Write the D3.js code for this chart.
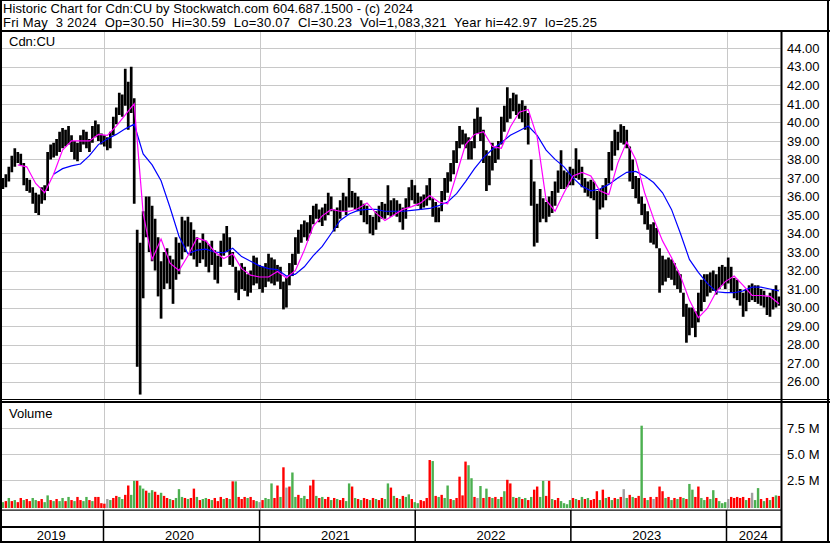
<!DOCTYPE html>
<html><head><meta charset="utf-8">
<script src="https://cdn.jsdelivr.net/npm/d3@7"></script>
<style>
html,body{margin:0;padding:0;background:#fff;}
svg{display:block;font-family:"Liberation Sans",Arial,sans-serif;}
</style></head><body>
<svg id="c" width="830" height="543"></svg>
<script>
// ---------- data ----------
const title = "Historic Chart for Cdn:CU by Stockwatch.com 604.687.1500 - (c) 2024";
const quote = "Fri May  3 2024  Op=30.50  Hi=30.59  Lo=30.07  Cl=30.23  Vol=1,083,321  Year hi=42.97  lo=25.25";
const symbol = "Cdn:CU";
const volumeLabel = "Volume";
const priceTicks = [26,27,28,29,30,31,32,33,34,35,36,37,38,39,40,41,42,43,44];
const volTicks = [2.5, 5.0, 7.5];          // millions
const years = [2019, 2020, 2021, 2022, 2023, 2024];
const firstWeek = new Date(2019, 4, 10), lastWeekStop = new Date(2024, 4, 4);

const hi = [
37.0,37.2,37.6,38.2,38.6,38.4,38.3,37.8,37.0,36.9,
36.5,36.2,36.1,36.5,36.6,38.4,38.8,38.9,39.1,39.5,
39.7,39.6,39.8,39.3,39.0,38.9,39.3,39.6,39.5,39.1,
39.8,40.1,39.9,39.4,39.3,39.2,39.5,40.3,40.8,41.6,
41.5,42.9,42.2,43.0,41.3,34.2,33.5,35.2,36.0,36.0,
35.5,34.8,33.8,32.5,33.0,33.2,32.8,32.6,33.8,33.5,
34.9,34.7,34.9,34.6,34.2,33.8,33.5,34.0,33.6,33.4,
33.6,33.1,32.8,33.6,34.0,34.4,33.8,33.0,32.2,32.0,
32.4,32.2,31.8,32.0,32.8,32.7,32.3,32.2,32.4,32.9,
32.7,32.6,32.3,32.2,31.4,31.6,32.4,32.9,33.8,34.2,
34.5,34.7,34.6,35.0,35.5,35.6,35.3,35.4,35.6,36.2,
36.0,35.3,35.4,35.8,36.2,36.0,37.0,36.3,36.2,36.0,
35.8,35.6,35.5,35.0,34.9,35.2,35.5,35.7,35.6,36.6,
35.8,35.9,35.8,35.6,35.4,35.9,36.5,36.9,36.6,36.2,
36.0,36.1,36.6,37.0,35.9,35.7,35.4,36.3,37.0,37.3,
37.8,38.5,39.0,39.8,39.6,39.4,39.2,39.0,40.2,40.8,
40.3,39.6,38.5,38.2,38.9,38.6,39.0,40.3,40.9,41.9,
41.3,41.6,41.5,41.0,41.2,40.9,40.5,38.0,36.8,35.6,
36.4,35.9,35.7,36.0,36.3,36.8,37.4,38.5,37.4,37.3,
37.6,37.5,38.6,38.0,37.6,37.0,36.8,36.9,36.8,36.3,
36.4,36.6,37.0,38.4,39.0,39.6,39.5,39.9,39.8,39.6,
38.7,38.0,37.1,37.0,36.0,35.6,35.2,34.5,34.6,34.3,
33.2,32.8,32.6,32.7,32.6,32.4,32.0,31.8,30.8,30.2,
30.0,30.0,29.8,30.8,31.5,31.8,31.8,31.9,32.0,31.8,
32.2,32.3,32.2,32.7,32.2,31.6,31.5,31.0,30.8,31.0,
31.2,31.3,31.2,31.2,31.0,30.9,30.6,30.8,31.0,31.2,
30.6];
const lo = [
36.4,36.5,36.8,37.3,37.6,37.8,37.7,36.6,36.3,36.2,
35.6,35.1,35.0,35.6,35.8,36.3,38.0,38.1,38.2,38.4,
38.6,38.7,38.8,38.4,38.0,37.9,38.4,38.8,38.6,38.4,
38.9,39.2,39.0,38.8,38.7,38.5,38.6,39.3,39.9,40.4,
40.3,40.9,39.6,40.5,35.6,26.8,25.3,30.5,33.8,33.0,
32.5,32.0,30.6,29.4,31.0,31.3,31.0,30.2,31.5,31.8,
32.6,33.0,33.3,32.8,32.6,32.2,32.4,32.6,32.2,31.9,
32.3,31.5,31.3,32.2,32.8,33.0,32.3,32.2,30.8,30.4,
31.0,30.9,30.6,30.8,31.2,31.3,31.0,30.8,31.1,31.4,
31.3,31.2,31.4,31.0,29.9,30.0,31.2,31.7,32.3,32.9,
33.5,33.8,33.6,34.0,34.5,34.8,34.6,34.4,34.7,35.0,
35.2,34.1,34.3,34.8,35.2,35.0,35.4,35.4,35.3,35.2,
35.0,34.6,34.5,34.0,33.9,34.2,34.6,34.8,34.8,35.0,
34.9,35.0,34.9,34.6,34.2,34.8,35.4,35.8,35.6,35.5,
35.3,35.4,35.5,35.8,34.9,34.6,34.6,35.2,35.8,36.2,
36.8,37.2,37.8,38.6,38.8,38.6,38.0,38.0,38.6,39.4,
39.0,37.8,36.3,36.6,37.4,37.8,38.0,38.8,39.5,40.0,
40.2,40.6,40.4,40.2,40.0,39.6,38.8,35.5,33.3,33.5,
34.6,34.8,34.6,34.9,35.1,35.5,36.2,36.4,36.4,36.5,
36.6,36.6,37.0,36.9,36.5,36.2,36.0,35.9,35.8,33.7,
35.3,35.4,35.8,36.7,37.4,38.2,38.5,38.9,38.8,38.6,
36.8,36.4,35.9,35.6,35.0,34.5,34.2,33.5,33.4,33.2,
30.8,31.2,31.4,31.6,31.5,31.2,31.0,30.8,29.5,28.1,
28.5,28.9,28.4,29.2,29.8,30.3,30.6,30.8,30.9,30.7,
31.0,31.2,31.0,31.3,30.8,30.5,30.4,30.1,29.5,29.8,
30.3,30.4,30.3,30.2,30.1,30.0,29.6,29.5,29.9,30.0,
30.1];
// volume in millions
const vol = [
0.4,0.5,0.8,0.5,0.6,0.4,0.8,0.6,0.7,0.5,
0.8,0.6,0.5,0.7,0.4,1.05,0.6,0.5,0.7,0.5,
0.8,0.5,0.9,0.6,0.5,0.9,0.6,0.5,0.9,0.6,
0.5,0.9,0.9,0.3,0.25,0.7,0.6,0.8,1.0,0.9,
0.7,1.1,2.0,1.1,2.45,2.45,2.0,1.7,1.5,1.3,
1.55,1.4,1.1,1.3,1.0,0.8,0.7,0.6,0.8,1.65,
0.9,0.8,0.7,0.8,1.7,0.9,0.6,0.7,0.8,0.7,
0.6,0.8,0.5,0.9,0.7,0.8,0.7,2.4,2.4,0.9,
0.7,0.9,0.8,0.9,0.6,0.5,0.4,0.6,0.8,0.7,
2.2,0.8,2.0,0.9,3.75,1.8,1.9,3.25,0.9,1.1,
0.8,1.0,0.7,2.0,2.55,1.0,0.8,0.9,0.7,0.9,
0.6,0.8,0.7,0.6,0.8,0.5,2.2,1.9,0.8,0.7,
0.6,0.8,0.7,0.6,0.8,0.7,0.6,0.8,0.7,2.2,
1.8,1.0,0.8,0.7,1.0,0.9,1.15,0.7,0.4,0.3,
0.6,0.5,0.8,4.45,4.35,1.0,0.9,1.1,0.8,2.0,
0.7,0.6,0.8,2.85,1.05,4.3,3.95,2.7,0.9,0.8,
1.95,0.8,1.7,0.9,0.8,0.9,0.7,0.9,1.45,2.55,
2.2,0.9,0.8,0.9,0.7,0.8,0.6,0.9,1.6,1.9,
0.9,2.45,1.0,2.45,0.7,0.6,0.8,0.5,0.3,0.2,
0.6,0.8,0.7,0.6,0.9,0.7,0.8,0.6,0.7,1.45,
0.6,1.6,0.8,0.9,0.6,0.8,0.7,0.9,1.65,0.8,
1.1,0.9,0.8,1.0,7.75,0.8,0.6,0.9,0.7,0.9,
1.9,1.45,0.8,0.9,0.6,0.8,0.7,0.9,0.8,0.7,
2.15,1.6,0.9,1.9,0.8,0.6,0.9,0.7,1.55,0.8,
0.5,0.3,0.4,0.7,0.9,0.8,0.9,0.8,0.9,0.6,
0.8,1.3,0.6,1.75,0.7,0.5,0.8,0.6,0.9,1.05,
1.0];
// g = up, r = down, n = unchanged
const dir =
"grgrgrrgrr"+"ggrrggrgrg"+"grgrgrrggr"+"grrrrngrrg"+"grrggrggrg"+
"grrgrrgrgg"+"grgrrgrggr"+"grrrgrgrgr"+"rrgrrgnrgg"+"grrgrnrggr"+
"ggrrrgrgrr"+"grgrrggrgr"+"grrgrgrrgg"+"rgrgrggrgg"+"rrrrgrgrgg"+
"rgrrrrggrn"+"grgrgrgrgr"+"rgrgrgrgrr"+"ggrrgrrggg"+"grgrgrgrrr"+
"grgrgrgrng"+"rgrrgrgrnr"+"rrgrgrgrgr"+"ggrrggrggr"+"gggnrrrrrg"+
"rnggrgrgrg"+"r";
// moving averages, sampled every 3rd week
const maStep = 3;
const maShortStart = 5;
const maShort = [37.7,37.6,36.7,36.2,37.2,38.5,39.0,39.0,39.0,39.35,
39.3,39.8,40.4,41.0,35.1,32.6,33.7,32.4,32.0,32.8,
33.75,33.6,33.0,32.65,32.9,32.1,31.75,31.65,31.65,31.95,
31.6,32.0,33.1,34.4,34.95,35.3,35.2,35.2,35.35,35.65,
35.1,34.7,35.0,35.3,35.45,35.65,36.05,35.7,35.6,37.2,
38.8,39.35,39.5,38.7,38.6,39.75,40.55,40.7,39.2,35.8,
35.2,36.2,37.1,37.3,37.1,36.3,36.1,37.8,38.95,38.0,
36.2,34.8,33.6,32.7,31.7,30.4,29.45,29.95,30.85,31.4,
31.7,31.2,30.65,30.65,30.6,30.2];
const maLongStart = 17;
const maLong = [37.2,37.5,37.65,37.75,38.2,38.8,39.1,39.35,39.65,39.9,
38.3,37.7,36.85,35.4,33.85,32.9,33.1,33.15,33.0,32.95,
33.2,32.75,32.5,32.25,32.1,32.05,31.7,31.8,32.2,32.8,
33.3,34.0,34.7,35.05,35.25,35.3,35.3,35.2,35.2,35.2,
35.25,35.3,35.35,35.5,35.7,36.15,36.8,37.5,38.1,38.55,
38.9,39.3,39.55,39.8,39.3,38.5,38.0,37.6,37.0,36.55,
36.3,36.4,36.65,37.0,37.3,37.35,37.1,36.75,36.2,35.3,
34.0,32.6,31.9,31.3,30.85,30.8,30.8,30.9,31.1,31.1,
31.0,30.9];

// ---------- chart ----------
const svg = d3.select("#c");
const W = 830, H = 543;
const font = 13;
const plotL = 2, plotR = 780.5;
const priceTop = 32, priceBot = 399;
const volTop = 403, volBot = 509.5;
const weeks = d3.timeFriday.range(firstWeek, lastWeekStop);

const x = d3.scaleTime()
  .domain([new Date(2020,0,1), new Date(2024,0,1)])
  .range([103.5, 726.5]);
const y = d3.scaleLinear().domain([26,44]).range([381.6, 48.3]);
const yv = d3.scaleLinear().domain([0,7.5]).range([506.3, 428.3]);

const defs = svg.append("defs");
defs.append("clipPath").attr("id","cp").append("rect")
  .attr("x",plotL).attr("y",priceTop).attr("width",plotR-plotL).attr("height",priceBot-priceTop);
defs.append("clipPath").attr("id","cv").append("rect")
  .attr("x",plotL).attr("y",volTop).attr("width",plotR-plotL).attr("height",volBot-volTop);

svg.append("rect").attr("width",W).attr("height",H).attr("fill","#fff");

const yearStarts = years.slice(1).map(yr => new Date(yr,0,1));
const grid = "#c8c8c8";

// price grid
const gp = svg.append("g").attr("clip-path","url(#cp)").attr("shape-rendering","crispEdges");
gp.selectAll("line.h").data(priceTicks).join("line")
  .attr("x1",plotL).attr("x2",plotR).attr("y1",d=>Math.round(y(d))+0.5).attr("y2",d=>Math.round(y(d))+0.5)
  .attr("stroke",grid);
gp.selectAll("line.v").data(yearStarts).join("line")
  .attr("x1",d=>Math.round(x(d))+0.5).attr("x2",d=>Math.round(x(d))+0.5).attr("y1",priceTop).attr("y2",priceBot)
  .attr("stroke",grid);

// volume grid
const gv = svg.append("g").attr("clip-path","url(#cv)").attr("shape-rendering","crispEdges");
gv.selectAll("line.h").data(volTicks).join("line")
  .attr("x1",plotL).attr("x2",plotR).attr("y1",d=>Math.round(yv(d))+0.5).attr("y2",d=>Math.round(yv(d))+0.5)
  .attr("stroke",grid);
gv.selectAll("line.v").data(yearStarts).join("line")
  .attr("x1",d=>Math.round(x(d))+0.5).attr("x2",d=>Math.round(x(d))+0.5).attr("y1",volTop).attr("y2",volBot)
  .attr("stroke",grid);

// price bars
const bars = svg.append("g").attr("clip-path","url(#cp)");
bars.selectAll("line").data(weeks).join("line")
  .attr("x1",d=>x(d)).attr("x2",d=>x(d))
  .attr("y1",(d,i)=>y(hi[i])).attr("y2",(d,i)=>y(lo[i]))
  .attr("stroke","#000").attr("stroke-width",2.7);

// moving averages
const lineShort = d3.line().x((d,i)=>x(weeks[maShortStart+i*maStep])).y(d=>y(d));
const lineLong = d3.line().x((d,i)=>x(weeks[maLongStart+i*maStep])).y(d=>y(d));
bars.append("path").attr("d",lineLong(maLong)).attr("fill","none").attr("stroke","#0000ff").attr("stroke-width",1.2);
bars.append("path").attr("d",lineShort(maShort)).attr("fill","none").attr("stroke","#ff00ff").attr("stroke-width",1.2);

// volume bars
const colr = {g:"#4cb050", r:"#ff0000", n:"#a0a0a0"};
svg.append("g").attr("clip-path","url(#cv)").selectAll("rect").data(weeks).join("rect")
  .attr("x",d=>x(d)-1.2).attr("width",2.4)
  .attr("y",(d,i)=>yv(vol[i])).attr("height",(d,i)=>508-yv(vol[i]))
  .attr("fill",(d,i)=>colr[dir[i]]);

// axes labels (right)
const ax = svg.append("g").attr("transform","translate(781,0)")
  .call(d3.axisRight(y).tickValues(priceTicks).tickSize(0).tickPadding(6).tickFormat(d3.format(".2f")));
const axv = svg.append("g").attr("transform","translate(781,0)")
  .call(d3.axisRight(yv).tickValues(volTicks).tickSize(0).tickPadding(6).tickFormat(d=>d3.format(".1f")(d)+" M"));
[ax,axv].forEach(g=>{
  g.select(".domain").remove();
  g.selectAll("text").attr("font-size",font).attr("font-family","Liberation Sans, Arial, sans-serif").attr("fill","#000");
});

// frame lines
const blk = "#000";
function hline(x1,x2,yy,w){svg.append("rect").attr("x",x1).attr("y",yy).attr("width",x2-x1).attr("height",w).attr("fill",blk);}
function vline(xx,y1,y2,w){svg.append("rect").attr("x",xx).attr("y",y1).attr("width",w).attr("height",y2-y1).attr("fill",blk);}
hline(0,W,0,1);             // top
hline(0,W,30,2);            // header bottom
hline(0,W,399,1);           // price bottom
hline(0,W,401,2);           // volume top
hline(0,781,509.5,1.2);     // volume bottom
hline(0,781,526,2);         // year band top
hline(0,W,541,2);           // bottom
vline(0,0,H,2);             // left
vline(827,0,H,2);           // right
vline(780.5,32,541,2);      // axis line

// year bands
const bounds = [new Date(2019,4,6), ...yearStarts, new Date(2024,4,4)];
svg.append("g").selectAll("rect").data(yearStarts).join("rect")
  .attr("x",d=>x(d)-0.75).attr("width",1.5).attr("y",510).attr("height",31).attr("fill",blk);
svg.append("g").selectAll("text").data(years).join("text")
  .attr("x",(d,i)=>{
    const a = i===0 ? 0 : x(bounds[i]);
    const b = i===years.length-1 ? 781 : x(bounds[i+1]);
    return (a+b)/2 - (i>0 && i<years.length-1 ? 2 : 0.5);
  })
  .attr("y",539.5).attr("text-anchor","middle").attr("font-size",font).text(d=>d);

// texts
svg.append("text").attr("x",3).attr("y",13.3).attr("font-size",font).attr("xml:space","preserve").style("white-space","pre")
  .attr("textLength",410).attr("lengthAdjust","spacing").text(title);
svg.append("text").attr("x",3).attr("y",27).attr("font-size",font).attr("xml:space","preserve").style("white-space","pre")
  .attr("textLength",594).attr("lengthAdjust","spacing").text(quote);
svg.append("text").attr("x",9).attr("y",46).attr("font-size",font).text(symbol);
svg.append("text").attr("x",9).attr("y",418).attr("font-size",font).text(volumeLabel);
</script>
</body></html>
